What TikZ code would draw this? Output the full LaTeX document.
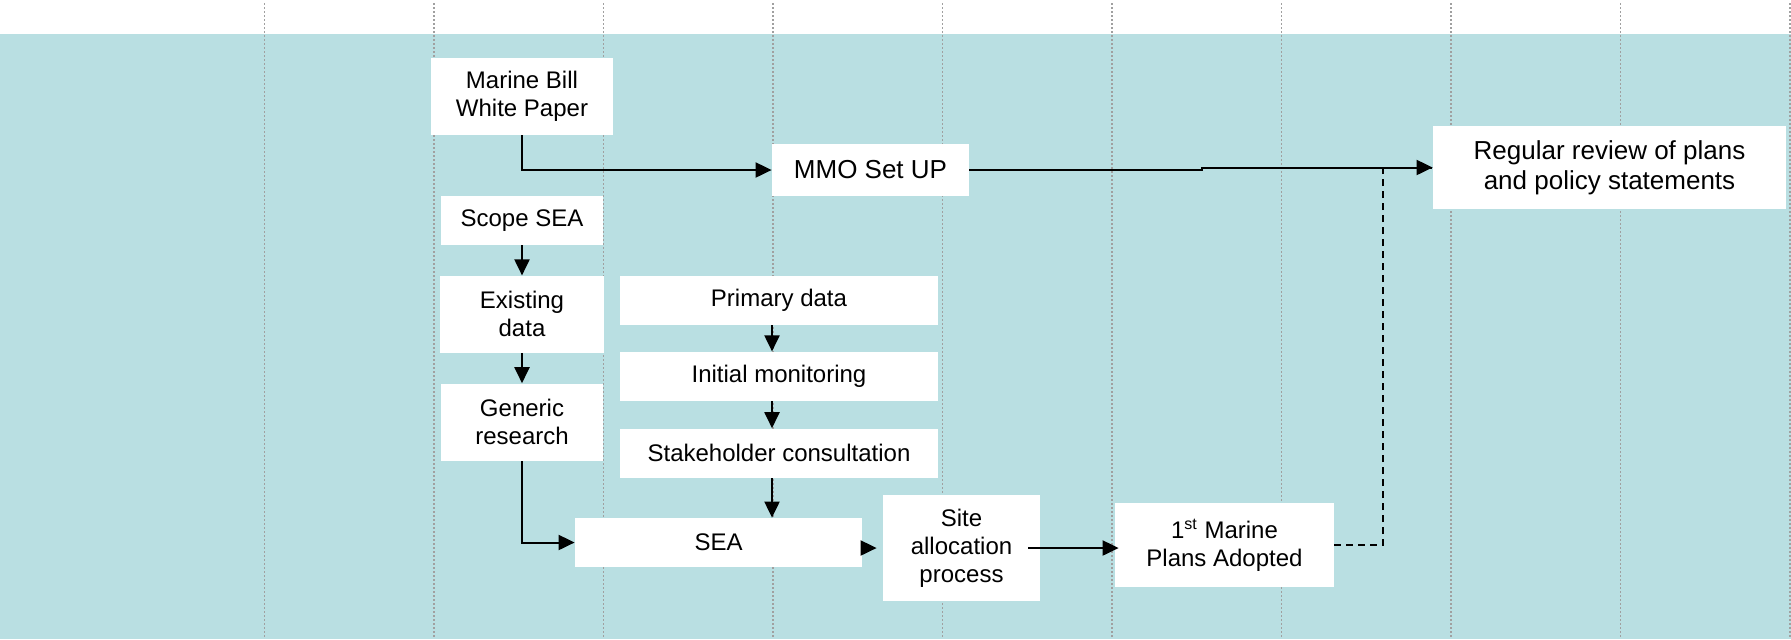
\documentclass[tikz,border=0pt]{standalone}
\usepackage{fontspec}
\setmainfont{Liberation Sans}
\usetikzlibrary{arrows.meta, positioning}

\definecolor{seateal}{RGB}{185,223,226}
\definecolor{gridgrey}{RGB}{160,160,160}

\begin{document}
\begin{tikzpicture}[
        x=0.5pt, y=-0.5pt,
        stage/.style={rectangle, fill=white, inner sep=0pt, align=center,
          font=\fontsize{12pt}{14pt}\selectfont},
        bigstage/.style={stage, font=\fontsize{13pt}{15pt}\selectfont},
        flow/.style={line width=1pt},
        dashflow/.style={line width=1pt, dash pattern=on 3.5pt off 2.5pt},
        gridline/.style={gridgrey, line width=0.6pt, dash pattern=on 1pt off 1pt},
        >={Triangle[length=8pt, width=7.5pt]}
      ]

      \useasboundingbox (0,0) rectangle (1791,639);
      \fill[white] (0,0) rectangle (1791,639);

      % Background band and time columns
      \fill[seateal] (0,34) rectangle (1791,639);
      \foreach \gx in {0,...,9}
        \draw[gridline] ({264.5+169.5*\gx},3) -- ({264.5+169.5*\gx},639);

      % Top row
      \node[stage, minimum width=91pt, minimum height=38.5pt] (whitepaper) at (522,96.5) {Marine Bill\\White Paper};
      \node[bigstage, minimum width=98.5pt, minimum height=26pt] (mmo) at (870.5,170) {MMO Set UP};
      \node[bigstage, minimum width=176.5pt, minimum height=41.5pt] (review) at (1609.5,167.5) {Regular review of plans\\and policy statements};

      % SEA column
      \node[stage, minimum width=81pt, minimum height=24.5pt] (scope) at (522,220.5) {Scope SEA};
      \node[stage, minimum width=82pt, minimum height=38.5pt, below=15pt of scope] (existing) {Existing\\data};
      \node[stage, minimum width=81pt, minimum height=38.5pt, below=15pt of existing] (generic) {Generic\\research};

      % Data column
      \node[stage, minimum width=159pt, minimum height=24.5pt] (primary) at (779,300.5) {Primary data};
      \node[stage, minimum width=159pt, minimum height=24.5pt, below=13pt of primary] (monitoring) {Initial monitoring};
      \node[stage, minimum width=159pt, minimum height=24.5pt, below=13.5pt of monitoring] (consult) {Stakeholder consultation};

      % Bottom row
      \node[stage, minimum width=143.5pt, minimum height=24.5pt] (sea) at (718.5,542.5) {SEA};
      \node[stage, minimum width=78.5pt, minimum height=53pt] (site) at (961.5,548) {Site\\allocation\\process};
      \node[stage, minimum width=109.5pt, minimum height=42pt] (adopted) at (1224.5,545) {1\textsuperscript{st} Marine\\Plans Adopted};

      % Connections
      \draw[flow, ->] (whitepaper.south) |- (mmo.west);
      \draw[flow, ->] (mmo.east) -- ++(116.5pt,0) |- (review.west);
      \draw[flow, ->] (scope) -- (existing);
      \draw[flow, ->] (existing) -- (generic);
      \draw[flow, ->] (generic.south) |- (sea.west);
      \draw[flow, ->] ([xshift=-3.5pt]primary.south) -- ([xshift=-3.5pt]monitoring.north);
      \draw[flow, ->] ([xshift=-3.5pt]monitoring.south) -- ([xshift=-3.5pt]consult.north);
      \draw[flow, ->] ([xshift=-3.5pt]consult.south) -- ([xshift=-3.5pt]consult.south |- sea.north);
      \draw[flow, ->, shorten >=3pt] (sea.east |- site.west) -- (site.west);
      \draw[flow, ->] ([xshift=-6pt]site.east) -- ([xshift=2pt]adopted.west |- site.east);
      \draw[dashflow] (adopted.east) -- ++(24.5pt,0) |- (review.west);

      \end{tikzpicture}
\end{document}
